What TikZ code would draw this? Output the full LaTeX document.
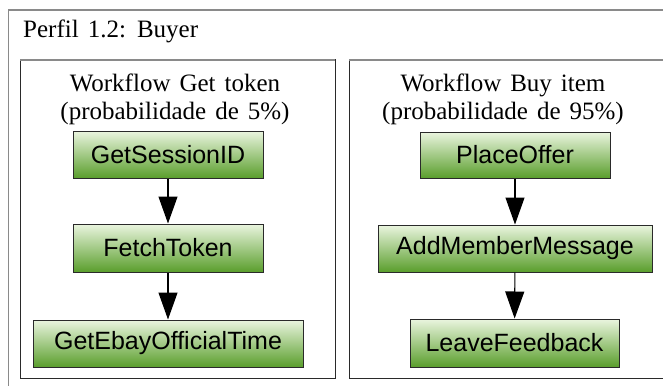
\documentclass[tikz,border=0pt]{standalone}
\usepackage{fontspec}
\setmainfont{Liberation Serif}
\setsansfont{Liberation Sans}
\usetikzlibrary{arrows.meta}
\definecolor{frameGray}{HTML}{8A8A8A}
\definecolor{edgeDark}{HTML}{2A2A2A}
\definecolor{greenTop}{HTML}{EAF5DF}
\definecolor{greenBot}{HTML}{5A9E2C}
\newcommand{\serifhead}{\fontsize{25}{28}\selectfont\spaceskip=0.36em plus 0.1em\relax}
\begin{document}
\begin{tikzpicture}[x=1pt,y=-1pt,
  task/.style={draw=edgeDark, line width=1pt, top color=greenTop, bottom color=greenBot,
    font=\sffamily\fontsize{25}{30}\selectfont, inner sep=0pt},
  flow/.style={draw=black, line width=1.1pt, -{Triangle[length=27pt,width=19pt]}},
  caption/.style={font=\serifhead, align=center, inner sep=0pt},
  group/.style={draw=edgeDark, line width=1pt},
  grouptop/.style={draw=frameGray, line width=1.6pt}]
\useasboundingbox (0,0) rectangle (663,385);
\clip (0,0) rectangle (663,385);

% outer profile frame
\draw[frameGray, line width=1.6pt] (8.5,10) rectangle (690,400);
\node[anchor=base west, font=\serifhead, inner sep=0pt] (title) at (23,38) {Perfil 1.2: Buyer};

% workflow containers
\draw[group] (20,60) rectangle (335,378);
\draw[grouptop] (20,60) -- (335,60);
\draw[group] (349,60) rectangle (690,378);
\draw[grouptop] (349,60) -- (690,60);

\node[caption, anchor=north] (capA) at (175,74) {Workflow Get token\\(probabilidade de 5\%)};
\node[caption, anchor=north] (capB) at (503,74) {Workflow Buy item\\(probabilidade de 95\%)};

% workflow: get token
\node[task, minimum width=190pt, minimum height=47pt] (gsid) at (168,154.5) {GetSessionID};
\node[task, minimum width=190pt, minimum height=48pt] (ftok) at (168,248) {FetchToken};
\node[task, minimum width=270pt, minimum height=47pt] (gtime) at (168,343.5) {GetEbayOfficialTime};

% workflow: buy item
\node[task, minimum width=190pt, minimum height=46pt] (offer) at (515,155) {PlaceOffer};
\node[task, minimum width=274pt, minimum height=47pt] (msg) at (515,248.5) {AddMemberMessage};
\node[task, minimum width=209pt, minimum height=48pt] (fb) at (514.5,343) {LeaveFeedback};

\draw[flow] (gsid) -- (ftok);
\draw[flow] (ftok) -- (gtime);
\draw[flow] (offer) -- (msg);
\draw[flow] (msg) -- (fb);
\end{tikzpicture}
\end{document}
